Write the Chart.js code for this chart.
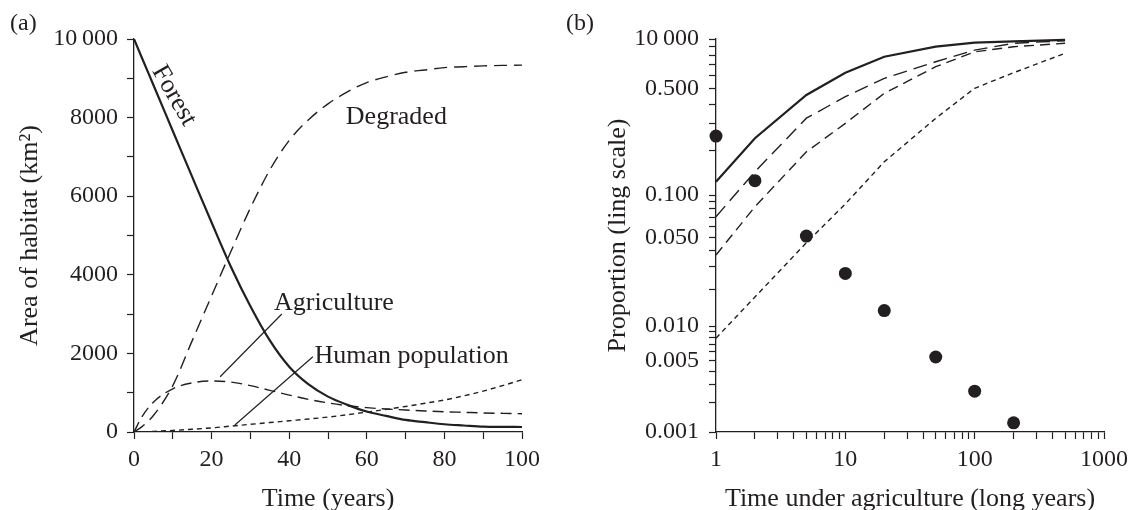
<!DOCTYPE html>
<html>
<head>
<meta charset="utf-8">
<script src="https://cdn.jsdelivr.net/npm/chart.js@4/dist/chart.umd.min.js"></script>
<style>
  html, body { margin: 0; padding: 0; background: #fff; }
  #wrap { position: relative; width: 1134px; height: 510px; }
  .panel { position: absolute; top: 0; height: 510px; }
  #pa { left: 0; width: 560px; }
  #pb { left: 560px; width: 574px; }
</style>
</head>
<body>
<div id="wrap">
  <div class="panel" id="pa"><canvas id="chartA"></canvas></div>
  <div class="panel" id="pb"><canvas id="chartB"></canvas></div>
</div>
<script>
// (a) habitat areas over time
const years = [0, 2, 5, 10, 15, 20, 25, 30, 35, 40, 45, 50, 55, 60, 65, 70, 75, 80, 85, 90, 95, 100];
const forest = [10000, 9530, 8830, 7660, 6490, 5330, 4200, 3200, 2330, 1660, 1210, 900, 690, 520, 410, 307, 250, 197, 166, 137, 130, 127];
const degraded = [0, 130, 420, 1180, 2325, 3465, 4600, 5700, 6667, 7420, 7947, 8350, 8655, 8892, 9038, 9154, 9212, 9272, 9295, 9315, 9328, 9335];
const agriculture = [0, 380, 760, 1100, 1250, 1300, 1270, 1180, 1060, 940, 830, 740, 670, 620, 585, 560, 535, 515, 500, 485, 475, 465];
const humanPop = [0, 5, 15, 40, 70, 105, 150, 195, 240, 285, 330, 380, 440, 505, 575, 650, 730, 815, 920, 1040, 1180, 1330];

// (b) proportion vs time under agriculture
const timeAg = [1, 2, 5, 10, 20, 50, 100, 200, 500];
const propSolid = [0.124, 0.242, 0.457, 0.627, 0.784, 0.901, 0.951, 0.969, 0.987];
const propLong = [0.0705, 0.145, 0.326, 0.446, 0.579, 0.731, 0.859, 0.943, 0.977];
const propMid = [0.0369, 0.083, 0.197, 0.302, 0.468, 0.682, 0.838, 0.90, 0.943];
const propShort = [0.0079, 0.0174, 0.0456, 0.0868, 0.169, 0.3255, 0.503, 0.627, 0.822];
const obsTime = [1, 2, 5, 10, 20, 50, 100, 200];
const obsProp = [0.25, 0.126, 0.051, 0.0267, 0.0135, 0.0054, 0.0026, 0.00125];

// tick labels
const areaTickVals = [0, 2000, 4000, 6000, 8000, 10000];
const areaTickText = ['0', '2000', '4000', '6000', '8000', '10\u2009000'];
const propTickVals = [1, 0.5, 0.1, 0.05, 0.01, 0.005, 0.001];
const propTickText = ['10\u2009000', '0.500', '0.100', '0.050', '0.010', '0.005', '0.001'];
const agTickVals = [1, 10, 100, 1000];

// labels drawn on panel (a), in data units
const curveNotes = [
  { text: 'Degraded', x: 54.6, y: 8020 },
  { text: 'Agriculture', x: 36.1, y: 3270 },
  { text: 'Human population', x: 46.5, y: 1930 },
];
const forestNote = { text: 'Forest', x: 10.3, y: 8560, angle: 60 };
const leaders = [
  [38.1, 3003, 22.2, 1407],
  [46.1, 1916, 26.0, 178],
];

const ink = '#231f20';
const fontFam = '"Liberation Serif", "Times New Roman", serif';
const bigFont = { size: 26, lineHeight: 1 };
Chart.defaults.font.family = fontFam;
Chart.defaults.font.size = 24;
Chart.defaults.color = ink;

// log scale with decades stretched towards the top, like the printed axis
const WARP = 0.2885;
class WarpLogScale extends Chart.LogarithmicScale {
  static id = 'warplog';
  static defaults = Chart.LogarithmicScale.defaults;
  getPixelForValue(value) {
    const lo = Math.log10(this.min), hi = Math.log10(this.max);
    const s = (hi - Math.log10(value)) / (hi - lo);
    const t = s + WARP * s * (1 - s);
    return this.getPixelForDecimal(1 - t);
  }
  getValueForPixel(pixel) {
    const t = 1 - this.getDecimalForPixel(pixel);
    const s = ((1 + WARP) - Math.sqrt((1 + WARP) ** 2 - 4 * WARP * t)) / (2 * WARP);
    const lo = Math.log10(this.min), hi = Math.log10(this.max);
    return Math.pow(10, hi - s * (hi - lo));
  }
}
Chart.register(WarpLogScale);

function pts(xs, ys) {
  return xs.map((x, i) => ({ x: x, y: ys[i] }));
}

function logTicks(lo, hi) {
  const out = [];
  for (let e = lo; e < hi; e++) {
    for (let k = 1; k < 10; k++) out.push(k * Math.pow(10, e));
  }
  out.push(Math.pow(10, hi));
  return out;
}

function near(a, b) {
  return Math.abs(a - b) <= Math.abs(b) * 1e-6;
}

function panelLetter(text, x, y) {
  return {
    id: 'letter',
    afterDraw(chart) {
      const ctx = chart.ctx;
      ctx.save();
      ctx.font = '24px ' + fontFam;
      ctx.fillStyle = ink;
      ctx.textBaseline = 'middle';
      ctx.textAlign = 'left';
      ctx.fillText(text, x, y);
      ctx.restore();
    },
  };
}

const curveLabels = {
  id: 'curveLabels',
  afterDatasetsDraw(chart) {
    const ctx = chart.ctx;
    const sx = chart.scales.x, sy = chart.scales.y;
    ctx.save();
    ctx.strokeStyle = ink;
    ctx.lineWidth = 1.2;
    leaders.forEach(l => {
      ctx.beginPath();
      ctx.moveTo(sx.getPixelForValue(l[0]), sy.getPixelForValue(l[1]));
      ctx.lineTo(sx.getPixelForValue(l[2]), sy.getPixelForValue(l[3]));
      ctx.stroke();
    });
    ctx.font = '26px ' + fontFam;
    ctx.fillStyle = ink;
    ctx.textBaseline = 'middle';
    ctx.textAlign = 'left';
    curveNotes.forEach(n => {
      ctx.fillText(n.text, sx.getPixelForValue(n.x), sy.getPixelForValue(n.y));
    });
    ctx.translate(sx.getPixelForValue(forestNote.x), sy.getPixelForValue(forestNote.y));
    ctx.rotate(forestNote.angle * Math.PI / 180);
    ctx.textAlign = 'center';
    ctx.fillText(forestNote.text, 0, 0);
    ctx.restore();
  },
};

const axisGrid = {
  drawOnChartArea: false,
  drawTicks: true,
  tickLength: 7,
  tickWidth: 1.2,
  tickColor: ink,
};
const axisBorder = { display: true, color: ink, width: 1.3 };

new Chart(document.getElementById('chartA'), {
  type: 'line',
  data: {
    datasets: [
      { label: 'Forest', data: pts(years, forest), borderColor: ink, borderWidth: 2.2, pointRadius: 0, cubicInterpolationMode: 'monotone' },
      { label: 'Degraded', data: pts(years, degraded), borderColor: ink, borderWidth: 1.4, borderDash: [13, 7], pointRadius: 0, cubicInterpolationMode: 'monotone' },
      { label: 'Agriculture', data: pts(years, agriculture), borderColor: ink, borderWidth: 1.4, borderDash: [11, 6], pointRadius: 0, cubicInterpolationMode: 'monotone' },
      { label: 'Human population', data: pts(years, humanPop), borderColor: ink, borderWidth: 1.4, borderDash: [5, 4], pointRadius: 0, cubicInterpolationMode: 'monotone' },
    ],
  },
  options: {
    responsive: true,
    maintainAspectRatio: false,
    animation: false,
    layout: { padding: { top: 39, right: 38, left: 0, bottom: 0 } },
    plugins: { legend: { display: false }, tooltip: { enabled: false } },
    scales: {
      x: {
        type: 'linear',
        min: 0,
        max: 100,
        grid: axisGrid,
        border: axisBorder,
        ticks: {
          stepSize: 10,
          padding: 6,
          maxRotation: 0,
          autoSkip: false,
          callback: v => (v % 20 === 0 ? String(v) : ''),
        },
        title: { display: true, text: 'Time (years)', font: bigFont, padding: { top: 0, bottom: -2 } },
        afterFit: s => { s.height = 78; },
      },
      y: {
        type: 'linear',
        min: 0,
        max: 10000,
        grid: axisGrid,
        border: axisBorder,
        ticks: {
          stepSize: 1000,
          padding: 9,
          autoSkip: false,
          callback: v => {
            const i = areaTickVals.indexOf(v);
            return i >= 0 ? areaTickText[i] : '';
          },
        },
        title: { display: true, text: 'Area of habitat (km²)', font: bigFont, padding: { top: 17, bottom: 0 } },
        afterFit: s => { s.width = 134; },
      },
    },
  },
  plugins: [curveLabels, panelLetter('(a)', 10, 24)],
});

new Chart(document.getElementById('chartB'), {
  type: 'line',
  data: {
    datasets: [
      { data: pts(timeAg, propSolid), borderColor: ink, borderWidth: 2.2, pointRadius: 0, tension: 0 },
      { data: pts(timeAg, propLong), borderColor: ink, borderWidth: 1.4, borderDash: [14, 7], pointRadius: 0, tension: 0 },
      { data: pts(timeAg, propMid), borderColor: ink, borderWidth: 1.4, borderDash: [10, 6], pointRadius: 0, tension: 0 },
      { data: pts(timeAg, propShort), borderColor: ink, borderWidth: 1.4, borderDash: [5, 4], pointRadius: 0, tension: 0 },
      { data: pts(obsTime, obsProp), showLine: false, pointRadius: 6.5, pointBackgroundColor: ink, pointBorderColor: ink, pointBorderWidth: 0 },
    ],
  },
  options: {
    responsive: true,
    maintainAspectRatio: false,
    animation: false,
    clip: false,
    layout: { padding: { top: 39, right: 29, left: 0, bottom: 0 } },
    plugins: { legend: { display: false }, tooltip: { enabled: false } },
    scales: {
      x: {
        type: 'logarithmic',
        min: 1,
        max: 1000,
        grid: axisGrid,
        border: axisBorder,
        afterBuildTicks: s => { s.ticks = logTicks(0, 3).map(v => ({ value: v })); },
        ticks: {
          padding: 6,
          maxRotation: 0,
          autoSkip: false,
          callback: v => (agTickVals.some(t => near(v, t)) ? String(Math.round(v)) : ''),
        },
        title: { display: true, text: 'Time under agriculture (long years)', font: bigFont, padding: { top: 0, bottom: -2 } },
        afterFit: s => { s.height = 78; },
      },
      y: {
        type: 'warplog',
        min: 0.001,
        max: 1,
        grid: axisGrid,
        border: axisBorder,
        afterBuildTicks: s => { s.ticks = logTicks(-3, 0).map(v => ({ value: v })); },
        ticks: {
          padding: 10,
          autoSkip: false,
          callback: v => {
            const i = propTickVals.findIndex(t => near(v, t));
            return i >= 0 ? propTickText[i] : '';
          },
        },
        title: { display: true, text: 'Proportion (ling scale)', font: bigFont, padding: { top: 45, bottom: 0 } },
        afterFit: s => { s.width = 156; },
      },
    },
  },
  plugins: [panelLetter('(b)', 6, 24)],
});
</script>
</body>
</html>
